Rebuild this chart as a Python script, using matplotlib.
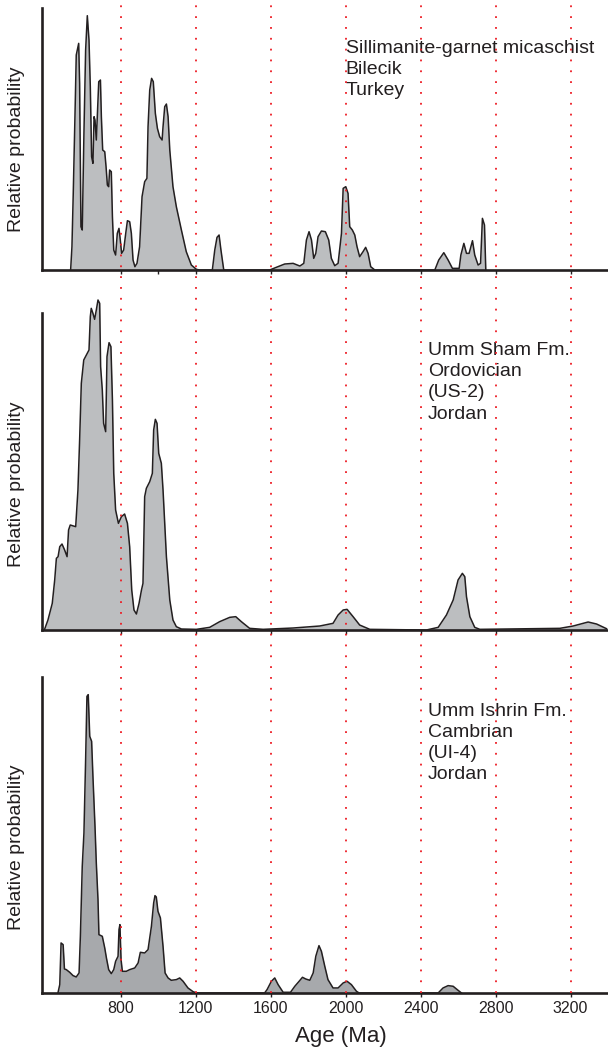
import matplotlib.pyplot as plt

plt.rcParams['font.family'] = ['Liberation Sans', 'DejaVu Sans']

# Sillimanite-garnet micaschist, Bilecik, Turkey
top_age = [533, 540, 547, 558, 563, 576, 581, 588, 595, 604, 613, 622, 631, 638, 645, 652, 658,
           663, 670, 676, 683, 692, 697, 704, 715, 722, 729, 736, 741, 750, 756, 763, 773, 782,
           791, 798, 805, 816, 827, 836, 848, 857, 866, 876, 887, 901, 914, 928, 940, 946, 955,
           965, 974, 985, 996, 1008, 1021, 1026, 1035, 1044, 1053, 1062, 1079, 1097, 1124, 1150,
           1177, 1204, 1222, 1289, 1302, 1314, 1325, 1335, 1350, 1595, 1630, 1675, 1720, 1756,
           1777, 1791, 1805, 1818, 1830, 1841, 1853, 1871, 1892, 1910, 1924, 1942, 1960, 1978,
           1987, 2001, 2013, 2022, 2036, 2049, 2061, 2075, 2093, 2107, 2120, 2134, 2156, 2476,
           2497, 2524, 2547, 2570, 2606, 2615, 2631, 2645, 2659, 2677, 2689, 2707, 2720, 2730,
           2741, 2748]
top_prob = [0, 70, 230, 510, 645, 680, 560, 130, 120, 410, 660, 763, 690, 550, 340, 320, 460,
            450, 390, 470, 565, 570, 460, 360, 355, 310, 255, 250, 300, 295, 160, 60, 45, 110,
            125, 90, 50, 60, 110, 148, 145, 110, 30, 10, 20, 70, 220, 265, 275, 430, 540,
            575, 565, 470, 425, 400, 390, 430, 490, 498, 460, 360, 250, 190, 120, 55,
            15, 2, 0, 0, 60, 98, 105, 60, 0, 0, 8, 18, 20, 12,
            20, 90, 115, 90, 35, 50, 100, 117, 115, 90, 35, 13, 20, 110,
            245, 250, 230, 130, 120, 105, 70, 40, 55, 68, 50, 10, 0, 0,
            30, 52, 30, 5, 5, 45, 80, 50, 50, 88, 45, 15, 20, 155,
            135, 0]

# Umm Sham Fm., Ordovician (US-2), Jordan
mid_age = [394, 412, 435, 448, 457, 466, 475, 487, 501, 514, 522, 531, 560, 572, 581, 590, 603,
           617, 631, 638, 643, 652, 661, 670, 679, 688, 693, 702, 709, 720, 727, 738, 748, 756,
           763, 773, 788, 804, 821, 836, 848, 859, 871, 884, 898, 911, 919, 928, 937, 955, 969,
           976, 985, 994, 1003, 1017, 1026, 1044, 1062, 1079, 1097, 1124, 1204, 1275, 1328,
           1382, 1414, 1444, 1488, 1560, 1720, 1862, 1933, 1960, 1987, 2008, 2040, 2075, 2129,
           2431, 2494, 2538, 2574, 2600, 2623, 2636, 2645, 2663, 2689, 2716, 3143, 3214, 3294,
           3339, 3392]
mid_prob = [2, 30, 80, 150, 215, 220, 250, 258, 240, 220, 300, 315, 310, 420, 570, 740, 810,
            825, 840, 940, 965, 950, 932, 960, 990, 980, 790, 720, 620, 595, 820, 862, 850, 690,
            470, 360, 320, 340, 348, 320, 250, 120, 60, 48, 80, 120, 140, 400, 425, 445, 470,
            600, 632, 620, 530, 500, 420, 220, 90, 30, 10, 3, 2, 8, 25,
            38, 40, 25, 5, 2, 6, 12, 20, 45, 60, 62, 40, 15, 2,
            0, 8, 45, 90, 150, 170, 160, 100, 40, 8, 2, 5, 12, 24,
            18, 4]

# Umm Ishrin Fm., Cambrian (UI-4), Jordan
bot_age = [466, 475, 482, 493, 500, 510, 528, 546, 563, 578, 585, 595, 604, 613, 620, 627, 635,
           645, 652, 663, 670, 679, 684, 702, 715, 724, 736, 750, 763, 773, 786, 791, 796, 802,
           809, 830, 848, 875, 893, 905, 928, 946, 964, 976, 983, 990, 999, 1012, 1026, 1037,
           1053, 1070, 1097, 1115, 1133, 1159, 1186, 1204, 1568, 1581, 1604, 1622, 1640, 1667,
           1706, 1729, 1752, 1770, 1787, 1809, 1827, 1841, 1858, 1871, 1889, 1906, 1933, 1960,
           1987, 2008, 2031, 2058, 2072, 2494, 2520, 2547, 2574, 2600, 2618]
bot_prob = [2, 25, 150, 145, 72, 70, 62, 52, 48, 60, 170, 380, 480, 700, 890, 895, 770,
            755, 650, 500, 390, 280, 175, 170, 135, 105, 70, 58, 70, 95, 110, 190, 205, 100,
            65, 65, 70, 75, 90, 122, 120, 130, 200, 270, 292, 288, 245, 225, 140, 60,
            45, 38, 40, 45, 35, 15, 4, 0, 0, 10, 35, 45, 25, 2,
            2, 20, 35, 47, 42, 38, 60, 110, 142, 125, 80, 40, 15, 15,
            30, 35, 25, 5, 0, 0, 15, 22, 20, 8, 0]

labels = ['Sillimanite-garnet micaschist\nBilecik\nTurkey',
          'Umm Sham Fm.\nOrdovician\n(US-2)\nJordan',
          'Umm Ishrin Fm.\nCambrian\n(UI-4)\nJordan']
label_x = [2000, 2438, 2438]
label_y = [0.878, 0.908, 0.918]
ref_ages = [800, 1200, 1600, 2000, 2400, 2800, 3200]

dark = '#231f20'
xmin, xmax = 380, 3400

fig = plt.figure(figsize=(6.08, 10.56), dpi=100)

panels = [
    ([0.069, 0.7443, 0.931, 0.2481], top_age, top_prob, 786, '#bcbec0'),
    ([0.069, 0.4034, 0.931, 0.3002], mid_age, mid_prob, 951, '#bcbec0'),
    ([0.069, 0.0597, 0.931, 0.2992], bot_age, bot_prob, 948, '#a7a9ac'),
]

axes = []
for i, (rect, age, prob, ytop, color) in enumerate(panels):
    ax = fig.add_axes(rect)
    ax.fill_between(age, prob, color=color, lw=0, clip_on=False)
    ax.plot(age, prob, color=dark, lw=1.1, clip_on=False)
    ax.set_xlim(xmin, xmax)
    ax.set_ylim(0, ytop)
    ax.patch.set_alpha(0)
    for s in ['top', 'right']:
        ax.spines[s].set_visible(False)
    for s in ['left', 'bottom']:
        ax.spines[s].set_linewidth(1.9)
        ax.spines[s].set_color(dark)
    ax.set_yticks([])
    ax.set_xticks(ref_ages)
    ax.tick_params(axis='x', length=3, width=1, color=dark, labelbottom=False)
    ax.set_ylabel('Relative probability', fontsize=14, color=dark)
    ax.yaxis.set_label_coords(-0.03, 0.46)
    ax.text(label_x[i], ytop * label_y[i], labels[i], fontsize=14, color=dark,
            va='top', ha='left', linespacing=1.32, zorder=5)
    axes.append(ax)

axes[0].set_xticks([800, 1000, 1200, 1600, 2000, 2400, 2800, 3200])

axes[2].tick_params(axis='x', labelbottom=True, labelsize=11.5, labelcolor=dark, pad=3)
axes[2].set_xlabel('Age (Ma)', fontsize=16, color=dark, labelpad=7)
axes[2].xaxis.label.set_x(0.528)

# red dotted reference lines across all panels
over = fig.add_axes([0.069, 0.0597, 0.931, 0.9356])
over.set_xlim(xmin, xmax)
over.set_ylim(0, 1)
over.axis('off')
over.patch.set_alpha(0)
for a in ref_ages:
    over.axvline(a, color='#ed1c24', lw=1.3, ls=(0, (1, 5)))

fig.savefig('out.png', dpi=100)
